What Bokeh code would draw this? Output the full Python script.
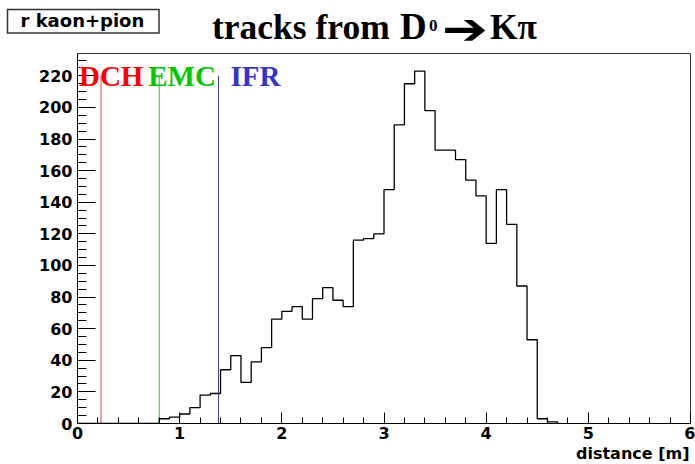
from bokeh.plotting import figure
from bokeh.layouts import column
from bokeh.models import ColumnDataSource, LabelSet, SingleIntervalTicker, Range1d, Title, Div
from bokeh.embed import file_html
from bokeh.resources import INLINE

# Histogram of track radial distance (0.1 m bins), first filled bin at 0.8 m
bin_start = 0.8
bin_width = 0.1
counts = [3, 4, 6, 10, 18, 19, 34, 43, 26, 39,
          48, 66, 71, 74, 66, 79, 86, 78, 74, 116,
          117, 120, 148, 189, 215, 223, 198, 173, 173, 167,
          154, 144, 114, 148, 126, 87, 53, 3, 1]

# Detector boundaries (inner radii)
det_names = ["DCH", "EMC", "IFR"]
det_radius = [0.23, 0.80, 1.38]
det_colors = ["#ff0000", "#00c800", "#3333cc"]
det_line_colors = ["#c85050", "#30c030", "#404088"]
det_top = 220

hist_name = "r kaon+pion"
title_words = "tracks from"
title_meson = "D"
title_sup = "0"
title_arrow = "\u2794"
title_tail = "K\u03c0"
x_title = "distance [m]"

edges = [bin_start + i * bin_width for i in range(len(counts) + 1)]
step_x = [0.0] + edges
step_y = [0] + counts + [0, 0]
y_max = 1.05 * max(counts)

W = 695
HEAD_H = 52
sans = "DejaVu Sans"


def svg_text(x, y, txt, family, size, extra=""):
    style = (f"font-family:'{family}';font-weight:bold;font-style:normal;"
             f"font-size:{size}px;fill:black;")
    return f'<text x="{x}" y="{y}" style="{style}" {extra}>{txt}</text>'


# ---- header strip: histogram name box and title ----
header_svg = (
    f'<svg xmlns="http://www.w3.org/2000/svg" width="{W}" height="{HEAD_H}" '
    f'style="display:block">'
    '<rect x="7.5" y="9.5" width="151.5" height="23.5" '
    'style="fill:white;stroke:#333333;stroke-width:1.5px"/>'
    + svg_text(20.5, 27, hist_name, "DejaVu Sans", 18)
    + svg_text(212, 38.5, title_words, "Liberation Serif", 35.5)
    + svg_text(400, 38.5, title_meson, "Liberation Serif", 37)
    + svg_text(429, 30.5, title_sup, "Liberation Serif", 17)
    + svg_text(442, 28, title_arrow, "DejaVu Sans", 44,
               'textLength="46" lengthAdjust="spacingAndGlyphs" dominant-baseline="central"')
    + svg_text(490, 38.5, title_tail, "Liberation Serif", 35.5)
    + '</svg>'
)
head = Div(text=header_svg, width=W, height=HEAD_H, margin=0, styles={"padding": "0"})

# ---- main histogram ----
p = figure(width=W, height=464 - HEAD_H, x_range=Range1d(0, 6), y_range=Range1d(0, y_max),
           output_backend="svg", toolbar_location=None,
           min_border_left=77, min_border_right=5, min_border_top=1, min_border_bottom=41)
p.xgrid.visible = False
p.ygrid.visible = False
p.background_fill_color = "white"
p.border_fill_color = "white"
p.outline_line_color = "#333333"
p.outline_line_width = 1

p.xaxis.ticker = SingleIntervalTicker(interval=1, num_minor_ticks=5)
p.yaxis.ticker = SingleIntervalTicker(interval=20, num_minor_ticks=4)
for ax in (p.xaxis[0], p.yaxis[0]):
    ax.major_tick_out = 0
    ax.minor_tick_out = 0
    ax.axis_line_color = "black"
    ax.major_tick_line_color = "black"
    ax.minor_tick_line_color = "black"
    ax.major_label_text_font = sans
    ax.major_label_text_font_style = "bold"
    ax.major_label_text_font_size = "16px"
    ax.major_label_text_color = "black"
p.xaxis.major_tick_in = 11
p.xaxis.minor_tick_in = 6
p.xaxis.major_label_standoff = 3
p.yaxis.major_tick_in = 18
p.yaxis.minor_tick_in = 9
p.yaxis.major_label_standoff = 5

p.add_layout(Title(text=x_title, align="right", text_font=sans, text_font_style="bold",
                   text_font_size="16px", text_color="black", standoff=0, offset=1),
             "below")

# Detector boundaries
det_src = ColumnDataSource(dict(x=det_radius, y0=[0] * 3, y1=[det_top] * 3,
                                name=det_names, color=det_colors,
                                lcolor=det_line_colors, dx=[-22, -11, 12],
                                ty=[det_top - 6.5] * 3))
p.segment(x0="x", y0="y0", x1="x", y1="y1", line_color="lcolor", line_width=1,
          source=det_src)

# Histogram outline
p.step(step_x, step_y, mode="after", line_color="black", line_width=1.3)

p.add_layout(LabelSet(x="x", y="ty", text="name", x_offset="dx", source=det_src,
                      text_color="color", text_font="Liberation Serif",
                      text_font_style="bold", text_font_size="29px",
                      text_baseline="alphabetic", text_align="left"))

layout = column(head, p, spacing=0)
open("out.html", "w").write(file_html(layout, INLINE))
